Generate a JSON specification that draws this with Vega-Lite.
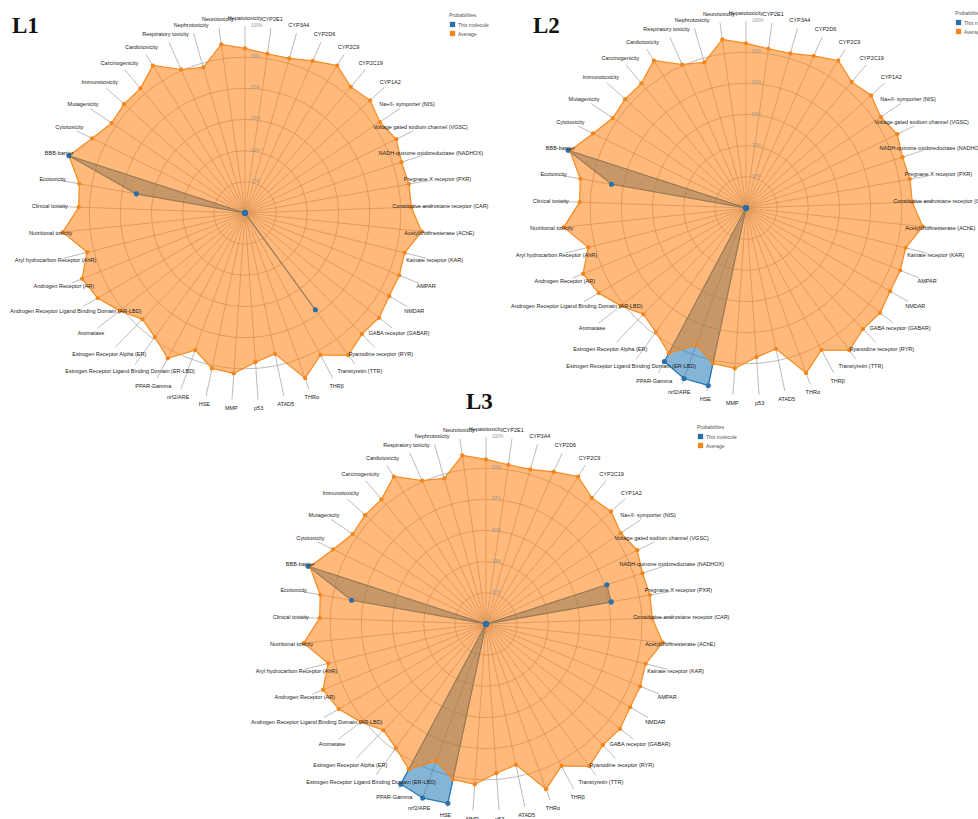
{
 "$schema": "https://vega.github.io/schema/vega-lite/v6.json",
 "autosize": {"type": "pad"},
 "padding": 0,
 "bounds": "flush",
 "align": "none",
 "columns": 2,
 "spacing": {"row": 0, "column": 1},
 "background": "white",
 "config": {"view": {"stroke": null}, "font": "Liberation Sans"},
 "datasets": {
  "rings": [
   {"level": 0.1667, "label": "17%"}, {"level": 0.3333, "label": "33%"}, {"level": 0.5, "label": "50%"},
   {"level": 0.6667, "label": "67%"}, {"level": 0.8333, "label": "83%"}, {"level": 1.0, "label": "100%"}
  ],
  "radar": [
   {"i": 0, "axis": "Hepatotoxicity", "Average": 0.88, "L1": 0, "L2": 0, "L3": 0},
   {"i": 1, "axis": "CYP2E1", "Average": 0.86, "L1": 0, "L2": 0, "L3": 0},
   {"i": 2, "axis": "CYP3A4", "Average": 0.86, "L1": 0, "L2": 0, "L3": 0},
   {"i": 3, "axis": "CYP2D6", "Average": 0.89, "L1": 0, "L2": 0, "L3": 0},
   {"i": 4, "axis": "CYP2C9", "Average": 0.93, "L1": 0, "L2": 0, "L3": 0},
   {"i": 5, "axis": "CYP2C19", "Average": 0.88, "L1": 0, "L2": 0, "L3": 0},
   {"i": 6, "axis": "CYP1A2", "Average": 0.90, "L1": 0, "L2": 0, "L3": 0},
   {"i": 7, "axis": "Na+/I- symporter (NIS)", "Average": 0.87, "L1": 0, "L2": 0, "L3": 0},
   {"i": 8, "axis": "Voltage gated sodium channel (VGSC)", "Average": 0.90, "L1": 0, "L2": 0, "L3": 0},
   {"i": 9, "axis": "NADH-quinone oxidoreductase (NADHOX)", "Average": 0.88, "L1": 0, "L2": 0, "L3": 0.68},
   {"i": 10, "axis": "Pregnane X receptor (PXR)", "Average": 0.89, "L1": 0, "L2": 0, "L3": 0.68},
   {"i": 11, "axis": "Constitutive androstane receptor (CAR)", "Average": 0.89, "L1": 0, "L2": 0, "L3": 0},
   {"i": 12, "axis": "Acetylcholinesterase (AChE)", "Average": 0.95, "L1": 0, "L2": 0, "L3": 0},
   {"i": 13, "axis": "Kainate receptor (KAR)", "Average": 0.88, "L1": 0, "L2": 0, "L3": 0},
   {"i": 14, "axis": "AMPAR", "Average": 0.89, "L1": 0, "L2": 0, "L3": 0},
   {"i": 15, "axis": "NMDAR", "Average": 0.89, "L1": 0, "L2": 0, "L3": 0},
   {"i": 16, "axis": "GABA receptor (GABAR)", "Average": 0.91, "L1": 0, "L2": 0, "L3": 0},
   {"i": 17, "axis": "Ryanodine receptor (RYR)", "Average": 0.90, "L1": 0, "L2": 0, "L3": 0},
   {"i": 18, "axis": "Transtyretin (TTR)", "Average": 0.94, "L1": 0.64, "L2": 0, "L3": 0},
   {"i": 19, "axis": "THRβ", "Average": 0.86, "L1": 0, "L2": 0, "L3": 0},
   {"i": 20, "axis": "THRα", "Average": 0.94, "L1": 0, "L2": 0, "L3": 0},
   {"i": 21, "axis": "ATAD5", "Average": 0.77, "L1": 0, "L2": 0, "L3": 0},
   {"i": 22, "axis": "p53", "Average": 0.80, "L1": 0, "L2": 0, "L3": 0},
   {"i": 23, "axis": "MMP", "Average": 0.86, "L1": 0, "L2": 0, "L3": 0},
   {"i": 24, "axis": "HSE", "Average": 0.85, "L1": 0, "L2": 0.97, "L3": 0.98},
   {"i": 25, "axis": "nrf2/ARE", "Average": 0.78, "L1": 0, "L2": 0.97, "L3": 0.99},
   {"i": 26, "axis": "PPAR-Gamma", "Average": 0.88, "L1": 0, "L2": 0.93, "L3": 0.97},
   {"i": 27, "axis": "Estrogen Receptor Ligand Binding Domain (ER-LBD)", "Average": 0.82, "L1": 0, "L2": 0, "L3": 0},
   {"i": 28, "axis": "Estrogen Receptor Alpha (ER)", "Average": 0.79, "L1": 0, "L2": 0, "L3": 0},
   {"i": 29, "axis": "Aromatase", "Average": 0.85, "L1": 0, "L2": 0, "L3": 0},
   {"i": 30, "axis": "Androgen Receptor Ligand Binding Domain (AR-LBD)", "Average": 0.91, "L1": 0, "L2": 0, "L3": 0},
   {"i": 31, "axis": "Androgen Receptor (AR)", "Average": 0.94, "L1": 0, "L2": 0, "L3": 0},
   {"i": 32, "axis": "Aryl hydrocarbon Receptor (AhR)", "Average": 0.87, "L1": 0, "L2": 0, "L3": 0},
   {"i": 33, "axis": "Nutritional toxicity", "Average": 0.98, "L1": 0, "L2": 0, "L3": 0},
   {"i": 34, "axis": "Clinical toxicity", "Average": 0.89, "L1": 0, "L2": 0, "L3": 0},
   {"i": 35, "axis": "Ecotoxicity", "Average": 0.90, "L1": 0.59, "L2": 0.73, "L3": 0.73},
   {"i": 36, "axis": "BBB-barrier", "Average": 0.99, "L1": 0.99, "L2": 1.0, "L3": 1.0},
   {"i": 37, "axis": "Cytotoxicity", "Average": 0.91, "L1": 0, "L2": 0, "L3": 0},
   {"i": 38, "axis": "Mutagenicity", "Average": 0.86, "L1": 0, "L2": 0, "L3": 0},
   {"i": 39, "axis": "Immunotoxicity", "Average": 0.87, "L1": 0, "L2": 0, "L3": 0},
   {"i": 40, "axis": "Carcinogenicity", "Average": 0.87, "L1": 0, "L2": 0, "L3": 0},
   {"i": 41, "axis": "Cardiotoxicity", "Average": 0.93, "L1": 0, "L2": 0, "L3": 0},
   {"i": 42, "axis": "Respiratory toxicity", "Average": 0.84, "L1": 0, "L2": 0, "L3": 0},
   {"i": 43, "axis": "Nephrotoxicity", "Average": 0.81, "L1": 0, "L2": 0, "L3": 0},
   {"i": 44, "axis": "Neurotoxicity", "Average": 0.91, "L1": 0, "L2": 0, "L3": 0}
  ]
 },
 "resolve": {"scale": {"x": "independent", "y": "independent", "color": "independent", "size": "independent"}, "legend": {"color": "independent", "size": "independent"}},
 "concat": [
    {
     "width": 500, "height": 400,
     "title": {"text": "L1", "anchor": "start", "frame": "group", "font": "Liberation Serif", "fontSize": 23, "fontWeight": "bold", "color": "#111", "dx": 12, "dy": 42},
     "layer": [
      {"data": {"name": "rings"},
       "transform": [{"filter": "datum.level < 0.99"}],
       "mark": {"type": "point", "shape": "circle", "filled": false, "stroke": "#aaaaaa", "strokeWidth": 0.8, "opacity": 1},
       "encoding": {
        "x": {"datum": 0, "type": "quantitative", "scale": {"domain": [-1.3102, 1.3636], "nice": false, "zero": false}, "axis": null},
        "y": {"datum": 0, "type": "quantitative", "scale": {"domain": [-1.0, 1.139], "nice": false, "zero": false}, "axis": null},
        "size": {"field": "level", "type": "quantitative", "scale": {"type": "pow", "exponent": 2, "domain": [0, 1], "range": [0, 139876]}, "legend": null}}},
      {"data": {"name": "radar"},
       "transform": [{"calculate": "datum.i*2*PI/45", "as": "t"}, {"calculate": "sin(datum.t)", "as": "sx"}, {"calculate": "cos(datum.t)", "as": "sy"}],
       "mark": {"type": "rule", "stroke": "#aaaaaa", "strokeWidth": 0.8},
       "encoding": {
        "x": {"field": "sx", "type": "quantitative", "scale": {"domain": [-1.3102, 1.3636], "nice": false, "zero": false}, "axis": null},
        "y": {"field": "sy", "type": "quantitative", "scale": {"domain": [-1.0, 1.139], "nice": false, "zero": false}, "axis": null},
        "x2": {"datum": 0}, "y2": {"datum": 0}}},
      {"data": {"name": "radar"},
       "transform": [{"calculate": "datum.i*2*PI/45", "as": "t"}, {"calculate": "datum.L1*sin(datum.t)", "as": "px"}, {"calculate": "datum.L1*cos(datum.t)", "as": "py"}],
       "mark": {"type": "line", "interpolate": "linear-closed", "fill": "#1f77b4", "fillOpacity": 0.55, "stroke": "#1f77b4", "strokeWidth": 1.2},
       "encoding": {
        "x": {"field": "px", "type": "quantitative", "scale": {"domain": [-1.3102, 1.3636], "nice": false, "zero": false}, "axis": null},
        "y": {"field": "py", "type": "quantitative", "scale": {"domain": [-1.0, 1.139], "nice": false, "zero": false}, "axis": null},
        "order": {"field": "i", "type": "quantitative"}}},
      {"data": {"name": "radar"},
       "transform": [{"calculate": "datum.i*2*PI/45", "as": "t"}, {"calculate": "datum.Average*sin(datum.t)", "as": "px"}, {"calculate": "datum.Average*cos(datum.t)", "as": "py"}],
       "mark": {"type": "line", "interpolate": "linear-closed", "fill": "#ff7f0e", "fillOpacity": 0.55, "stroke": "#f5891f", "strokeWidth": 1.2},
       "encoding": {
        "x": {"field": "px", "type": "quantitative", "scale": {"domain": [-1.3102, 1.3636], "nice": false, "zero": false}, "axis": null},
        "y": {"field": "py", "type": "quantitative", "scale": {"domain": [-1.0, 1.139], "nice": false, "zero": false}, "axis": null},
        "order": {"field": "i", "type": "quantitative"}}},
      {"data": {"name": "radar"},
       "transform": [{"calculate": "datum.i*2*PI/45", "as": "t"}, {"calculate": "datum.Average*sin(datum.t)", "as": "px"}, {"calculate": "datum.Average*cos(datum.t)", "as": "py"}],
       "mark": {"type": "point", "filled": true, "size": 18, "opacity": 1},
       "encoding": {
        "x": {"field": "px", "type": "quantitative", "scale": {"domain": [-1.3102, 1.3636], "nice": false, "zero": false}, "axis": null},
        "y": {"field": "py", "type": "quantitative", "scale": {"domain": [-1.0, 1.139], "nice": false, "zero": false}, "axis": null},
        "color": {"datum": "Average", "type": "nominal", "scale": {"domain": ["This molecule", "Average"], "range": ["#2a6fa8", "#f58518"]},
         "legend": {"title": "Probabilities", "orient": "none", "legendX": 449, "legendY": 13, "titleFontSize": 5, "titleFontWeight": "normal", "titleColor": "#555", "labelFontSize": 5, "labelColor": "#555", "symbolType": "square", "symbolSize": 28, "rowPadding": 2, "titlePadding": 3, "labelOffset": 2}}}},
      {"data": {"name": "radar"},
       "transform": [{"calculate": "datum.i*2*PI/45", "as": "t"}, {"calculate": "datum.L1*sin(datum.t)", "as": "px"}, {"calculate": "datum.L1*cos(datum.t)", "as": "py"}],
       "mark": {"type": "point", "filled": true, "size": 26, "opacity": 1},
       "encoding": {
        "x": {"field": "px", "type": "quantitative", "scale": {"domain": [-1.3102, 1.3636], "nice": false, "zero": false}, "axis": null},
        "y": {"field": "py", "type": "quantitative", "scale": {"domain": [-1.0, 1.139], "nice": false, "zero": false}, "axis": null},
        "color": {"datum": "This molecule", "type": "nominal"}}},
      {"data": {"name": "radar"},
       "transform": [{"calculate": "datum.i*2*PI/45", "as": "t"}, {"calculate": "1.045*sin(datum.t)", "as": "lx"}, {"calculate": "1.045*cos(datum.t)", "as": "ly"}],
       "mark": {"type": "text", "fontSize": 5.5, "color": "#222", "align": "center", "baseline": "middle"},
       "encoding": {
        "x": {"field": "lx", "type": "quantitative", "scale": {"domain": [-1.3102, 1.3636], "nice": false, "zero": false}, "axis": null},
        "y": {"field": "ly", "type": "quantitative", "scale": {"domain": [-1.0, 1.139], "nice": false, "zero": false}, "axis": null},
        "text": {"field": "axis"}}},
      {"data": {"name": "rings"},
       "mark": {"type": "text", "fontSize": 4.5, "color": "#999", "align": "left", "baseline": "middle", "dx": 6},
       "encoding": {
        "x": {"datum": 0, "type": "quantitative", "scale": {"domain": [-1.3102, 1.3636], "nice": false, "zero": false}, "axis": null},
        "y": {"field": "level", "type": "quantitative", "scale": {"domain": [-1.0, 1.139], "nice": false, "zero": false}, "axis": null},
        "text": {"field": "label"}}}
     ]
    },
    {
     "width": 500, "height": 400,
     "title": {"text": "L2", "anchor": "start", "frame": "group", "font": "Liberation Serif", "fontSize": 23, "fontWeight": "bold", "color": "#111", "dx": 32, "dy": 42},
     "layer": [
      {"data": {"name": "rings"},
       "transform": [{"filter": "datum.level < 0.99"}],
       "mark": {"type": "point", "shape": "circle", "filled": false, "stroke": "#aaaaaa", "strokeWidth": 0.8, "opacity": 1},
       "encoding": {
        "x": {"datum": 0, "type": "quantitative", "scale": {"domain": [-1.3102, 1.3636], "nice": false, "zero": false}, "axis": null},
        "y": {"datum": 0, "type": "quantitative", "scale": {"domain": [-1.0267, 1.1123], "nice": false, "zero": false}, "axis": null},
        "size": {"field": "level", "type": "quantitative", "scale": {"type": "pow", "exponent": 2, "domain": [0, 1], "range": [0, 139876]}, "legend": null}}},
      {"data": {"name": "radar"},
       "transform": [{"calculate": "datum.i*2*PI/45", "as": "t"}, {"calculate": "sin(datum.t)", "as": "sx"}, {"calculate": "cos(datum.t)", "as": "sy"}],
       "mark": {"type": "rule", "stroke": "#aaaaaa", "strokeWidth": 0.8},
       "encoding": {
        "x": {"field": "sx", "type": "quantitative", "scale": {"domain": [-1.3102, 1.3636], "nice": false, "zero": false}, "axis": null},
        "y": {"field": "sy", "type": "quantitative", "scale": {"domain": [-1.0267, 1.1123], "nice": false, "zero": false}, "axis": null},
        "x2": {"datum": 0}, "y2": {"datum": 0}}},
      {"data": {"name": "radar"},
       "transform": [{"calculate": "datum.i*2*PI/45", "as": "t"}, {"calculate": "datum.L2*sin(datum.t)", "as": "px"}, {"calculate": "datum.L2*cos(datum.t)", "as": "py"}],
       "mark": {"type": "line", "interpolate": "linear-closed", "fill": "#1f77b4", "fillOpacity": 0.55, "stroke": "#1f77b4", "strokeWidth": 1.2},
       "encoding": {
        "x": {"field": "px", "type": "quantitative", "scale": {"domain": [-1.3102, 1.3636], "nice": false, "zero": false}, "axis": null},
        "y": {"field": "py", "type": "quantitative", "scale": {"domain": [-1.0267, 1.1123], "nice": false, "zero": false}, "axis": null},
        "order": {"field": "i", "type": "quantitative"}}},
      {"data": {"name": "radar"},
       "transform": [{"calculate": "datum.i*2*PI/45", "as": "t"}, {"calculate": "datum.Average*sin(datum.t)", "as": "px"}, {"calculate": "datum.Average*cos(datum.t)", "as": "py"}],
       "mark": {"type": "line", "interpolate": "linear-closed", "fill": "#ff7f0e", "fillOpacity": 0.55, "stroke": "#f5891f", "strokeWidth": 1.2},
       "encoding": {
        "x": {"field": "px", "type": "quantitative", "scale": {"domain": [-1.3102, 1.3636], "nice": false, "zero": false}, "axis": null},
        "y": {"field": "py", "type": "quantitative", "scale": {"domain": [-1.0267, 1.1123], "nice": false, "zero": false}, "axis": null},
        "order": {"field": "i", "type": "quantitative"}}},
      {"data": {"name": "radar"},
       "transform": [{"calculate": "datum.i*2*PI/45", "as": "t"}, {"calculate": "datum.Average*sin(datum.t)", "as": "px"}, {"calculate": "datum.Average*cos(datum.t)", "as": "py"}],
       "mark": {"type": "point", "filled": true, "size": 18, "opacity": 1},
       "encoding": {
        "x": {"field": "px", "type": "quantitative", "scale": {"domain": [-1.3102, 1.3636], "nice": false, "zero": false}, "axis": null},
        "y": {"field": "py", "type": "quantitative", "scale": {"domain": [-1.0267, 1.1123], "nice": false, "zero": false}, "axis": null},
        "color": {"datum": "Average", "type": "nominal", "scale": {"domain": ["This molecule", "Average"], "range": ["#2a6fa8", "#f58518"]},
         "legend": {"title": "Probabilities", "orient": "none", "legendX": 454, "legendY": 11, "titleFontSize": 5, "titleFontWeight": "normal", "titleColor": "#555", "labelFontSize": 5, "labelColor": "#555", "symbolType": "square", "symbolSize": 28, "rowPadding": 2, "titlePadding": 3, "labelOffset": 2}}}},
      {"data": {"name": "radar"},
       "transform": [{"calculate": "datum.i*2*PI/45", "as": "t"}, {"calculate": "datum.L2*sin(datum.t)", "as": "px"}, {"calculate": "datum.L2*cos(datum.t)", "as": "py"}],
       "mark": {"type": "point", "filled": true, "size": 26, "opacity": 1},
       "encoding": {
        "x": {"field": "px", "type": "quantitative", "scale": {"domain": [-1.3102, 1.3636], "nice": false, "zero": false}, "axis": null},
        "y": {"field": "py", "type": "quantitative", "scale": {"domain": [-1.0267, 1.1123], "nice": false, "zero": false}, "axis": null},
        "color": {"datum": "This molecule", "type": "nominal"}}},
      {"data": {"name": "radar"},
       "transform": [{"calculate": "datum.i*2*PI/45", "as": "t"}, {"calculate": "1.045*sin(datum.t)", "as": "lx"}, {"calculate": "1.045*cos(datum.t)", "as": "ly"}],
       "mark": {"type": "text", "fontSize": 5.5, "color": "#222", "align": "center", "baseline": "middle"},
       "encoding": {
        "x": {"field": "lx", "type": "quantitative", "scale": {"domain": [-1.3102, 1.3636], "nice": false, "zero": false}, "axis": null},
        "y": {"field": "ly", "type": "quantitative", "scale": {"domain": [-1.0267, 1.1123], "nice": false, "zero": false}, "axis": null},
        "text": {"field": "axis"}}},
      {"data": {"name": "rings"},
       "mark": {"type": "text", "fontSize": 4.5, "color": "#999", "align": "left", "baseline": "middle", "dx": 6},
       "encoding": {
        "x": {"datum": 0, "type": "quantitative", "scale": {"domain": [-1.3102, 1.3636], "nice": false, "zero": false}, "axis": null},
        "y": {"field": "level", "type": "quantitative", "scale": {"domain": [-1.0267, 1.1123], "nice": false, "zero": false}, "axis": null},
        "text": {"field": "label"}}}
     ]
    },
  {
   "width": 500, "height": 419,
   "title": {"text": "L3", "anchor": "start", "frame": "group", "font": "Liberation Serif", "fontSize": 23, "fontWeight": "bold", "color": "#111", "dx": 466, "dy": 18},
   "layer": [
    {"data": {"name": "rings"},
     "transform": [{"filter": "datum.level < 0.99"}],
     "mark": {"type": "point", "shape": "circle", "filled": false, "stroke": "#aaaaaa", "strokeWidth": 0.8, "opacity": 1},
     "encoding": {
      "x": {"datum": 0, "type": "quantitative", "scale": {"domain": [-2.599, 0.0749], "nice": false, "zero": false}, "axis": null},
      "y": {"datum": 0, "type": "quantitative", "scale": {"domain": [-1.0428, 1.1979], "nice": false, "zero": false}, "axis": null},
      "size": {"field": "level", "type": "quantitative", "scale": {"type": "pow", "exponent": 2, "domain": [0, 1], "range": [0, 139876]}, "legend": null}}},
    {"data": {"name": "radar"},
     "transform": [{"calculate": "datum.i*2*PI/45", "as": "t"}, {"calculate": "sin(datum.t)", "as": "sx"}, {"calculate": "cos(datum.t)", "as": "sy"}],
     "mark": {"type": "rule", "stroke": "#aaaaaa", "strokeWidth": 0.8},
     "encoding": {
      "x": {"field": "sx", "type": "quantitative", "scale": {"domain": [-2.599, 0.0749], "nice": false, "zero": false}, "axis": null},
      "y": {"field": "sy", "type": "quantitative", "scale": {"domain": [-1.0428, 1.1979], "nice": false, "zero": false}, "axis": null},
      "x2": {"datum": 0}, "y2": {"datum": 0}}},
    {"data": {"name": "radar"},
     "transform": [{"calculate": "datum.i*2*PI/45", "as": "t"}, {"calculate": "datum.L3*sin(datum.t)", "as": "px"}, {"calculate": "datum.L3*cos(datum.t)", "as": "py"}],
     "mark": {"type": "line", "interpolate": "linear-closed", "fill": "#1f77b4", "fillOpacity": 0.55, "stroke": "#1f77b4", "strokeWidth": 1.2},
     "encoding": {
      "x": {"field": "px", "type": "quantitative", "scale": {"domain": [-2.599, 0.0749], "nice": false, "zero": false}, "axis": null},
      "y": {"field": "py", "type": "quantitative", "scale": {"domain": [-1.0428, 1.1979], "nice": false, "zero": false}, "axis": null},
      "order": {"field": "i", "type": "quantitative"}}},
    {"data": {"name": "radar"},
     "transform": [{"calculate": "datum.i*2*PI/45", "as": "t"}, {"calculate": "datum.Average*sin(datum.t)", "as": "px"}, {"calculate": "datum.Average*cos(datum.t)", "as": "py"}],
     "mark": {"type": "line", "interpolate": "linear-closed", "fill": "#ff7f0e", "fillOpacity": 0.55, "stroke": "#f5891f", "strokeWidth": 1.2},
     "encoding": {
      "x": {"field": "px", "type": "quantitative", "scale": {"domain": [-2.599, 0.0749], "nice": false, "zero": false}, "axis": null},
      "y": {"field": "py", "type": "quantitative", "scale": {"domain": [-1.0428, 1.1979], "nice": false, "zero": false}, "axis": null},
      "order": {"field": "i", "type": "quantitative"}}},
    {"data": {"name": "radar"},
     "transform": [{"calculate": "datum.i*2*PI/45", "as": "t"}, {"calculate": "datum.Average*sin(datum.t)", "as": "px"}, {"calculate": "datum.Average*cos(datum.t)", "as": "py"}],
     "mark": {"type": "point", "filled": true, "size": 18, "opacity": 1},
     "encoding": {
      "x": {"field": "px", "type": "quantitative", "scale": {"domain": [-2.599, 0.0749], "nice": false, "zero": false}, "axis": null},
      "y": {"field": "py", "type": "quantitative", "scale": {"domain": [-1.0428, 1.1979], "nice": false, "zero": false}, "axis": null},
      "color": {"datum": "Average", "type": "nominal", "scale": {"domain": ["This molecule", "Average"], "range": ["#2a6fa8", "#f58518"]},
       "legend": {"title": "Probabilities", "orient": "none", "legendX": 697, "legendY": 25, "titleFontSize": 5, "titleFontWeight": "normal", "titleColor": "#555", "labelFontSize": 5, "labelColor": "#555", "symbolType": "square", "symbolSize": 28, "rowPadding": 2, "titlePadding": 3, "labelOffset": 2}}}},
    {"data": {"name": "radar"},
     "transform": [{"calculate": "datum.i*2*PI/45", "as": "t"}, {"calculate": "datum.L3*sin(datum.t)", "as": "px"}, {"calculate": "datum.L3*cos(datum.t)", "as": "py"}],
     "mark": {"type": "point", "filled": true, "size": 26, "opacity": 1},
     "encoding": {
      "x": {"field": "px", "type": "quantitative", "scale": {"domain": [-2.599, 0.0749], "nice": false, "zero": false}, "axis": null},
      "y": {"field": "py", "type": "quantitative", "scale": {"domain": [-1.0428, 1.1979], "nice": false, "zero": false}, "axis": null},
      "color": {"datum": "This molecule", "type": "nominal"}}},
    {"data": {"name": "radar"},
     "transform": [{"calculate": "datum.i*2*PI/45", "as": "t"}, {"calculate": "1.045*sin(datum.t)", "as": "lx"}, {"calculate": "1.045*cos(datum.t)", "as": "ly"}],
     "mark": {"type": "text", "fontSize": 5.5, "color": "#222", "align": "center", "baseline": "middle"},
     "encoding": {
      "x": {"field": "lx", "type": "quantitative", "scale": {"domain": [-2.599, 0.0749], "nice": false, "zero": false}, "axis": null},
      "y": {"field": "ly", "type": "quantitative", "scale": {"domain": [-1.0428, 1.1979], "nice": false, "zero": false}, "axis": null},
      "text": {"field": "axis"}}},
    {"data": {"name": "rings"},
     "mark": {"type": "text", "fontSize": 4.5, "color": "#999", "align": "left", "baseline": "middle", "dx": 6},
     "encoding": {
      "x": {"datum": 0, "type": "quantitative", "scale": {"domain": [-2.599, 0.0749], "nice": false, "zero": false}, "axis": null},
      "y": {"field": "level", "type": "quantitative", "scale": {"domain": [-1.0428, 1.1979], "nice": false, "zero": false}, "axis": null},
      "text": {"field": "label"}}}
   ]
  }
 ]
}
